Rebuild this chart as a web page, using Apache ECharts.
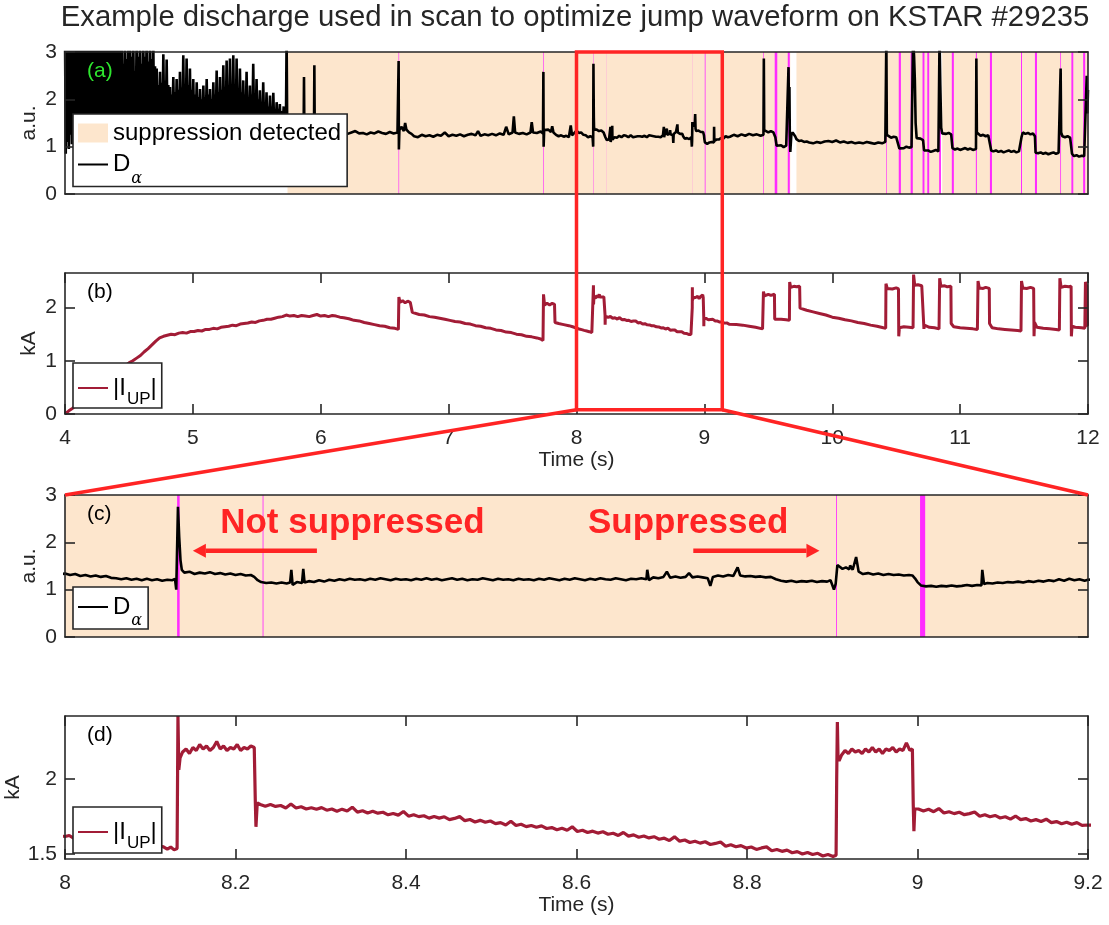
<!DOCTYPE html>
<html>
<head>
<meta charset="utf-8">
<script src="https://cdn.jsdelivr.net/npm/echarts@6/dist/echarts.min.js"></script>
<style>
  html, body { margin: 0; padding: 0; background: #ffffff; }
  #chart { width: 1109px; height: 925px; }
</style>
</head>
<body>
<div id="chart"></div>
<script>
// ---------------------------------------------------------------------------
// Data: KSTAR #29235, D-alpha emission and upper-coil current |I_UP|
// ---------------------------------------------------------------------------
const titleText = 'Example discharge used in scan to optimize jump waveform on KSTAR #29235';

const wideTimeTicks = [4, 5, 6, 7, 8, 9, 10, 11, 12];
const zoomTimeTicks = [8, 8.2, 8.4, 8.6, 8.8, 9, 9.2];
const dAlphaTicks = [0, 1, 2, 3];
const iUpWideTicks = [0, 1, 2];
const iUpZoomTicks = [1.5, 2];

const wideRange = [4, 12];
const zoomRange = [8, 9.2];
const dAlphaRange = [0, 3];
const iUpWideRange = [0, 2.65];
const iUpZoomRange = [1.465, 2.42];

// intervals flagged by the suppression detector (s)
const suppressionSpans = [[5.74, 9.672], [9.72, 10.846], [10.86, 12]];
// short intervals flagged as ELM / not suppressed (s)
const elmFlags = [
  [6.608, 6.613], [7.739, 7.744], [8.1315, 8.1345], [8.2318, 8.2328], [8.9045, 8.9055],
  [9.003, 9.009], [9.459, 9.464], [9.55, 9.57], [9.652, 9.668], [10.421, 10.426],
  [10.52, 10.537], [10.613, 10.63], [10.706, 10.721], [10.743, 10.758], [10.836, 10.85],
  [10.935, 10.951], [11.123, 11.131], [11.233, 11.249], [11.476, 11.484], [11.585, 11.601],
  [11.783, 11.789], [11.87, 11.885], [11.962, 11.978]
];

// ELMy phase before suppression: [time, burst peak, level between bursts]
const elmyBursts = [
  [4.000,3.4,0.85],[4.012,3.4,1.1],[4.024,3.4,0.95],[4.036,3.4,1.25],[4.048,3.4,1.05],[4.060,3.4,1.3],
  [4.072,3.4,1.15],[4.084,3.4,1.4],[4.096,3.4,1.2],[4.108,3.4,1.35],[4.120,3.4,1.25],[4.132,3.4,1.45],
  [4.144,3.4,1.3],[4.156,3.4,1.5],[4.168,3.4,1.35],[4.180,3.4,1.45],[4.192,3.4,1.3],[4.204,3.4,1.5],
  [4.216,3.4,1.4],[4.228,3.4,1.55],[4.240,3.4,1.35],[4.252,3.4,1.5],[4.264,3.4,1.45],[4.276,3.4,1.6],
  [4.288,3.4,1.4],[4.300,3.4,1.55],[4.312,3.4,1.45],[4.324,3.4,1.6],[4.336,3.4,1.5],[4.348,3.4,1.55],
  [4.360,3.4,1.45],[4.372,3.4,1.6],[4.384,3.4,1.5],[4.396,3.4,1.55],[4.408,3.4,1.45],[4.420,3.4,1.6],
  [4.432,3.4,1.5],[4.444,3.3,1.55],
  [4.456,2.75,1.5],[4.469,3.3,1.6],[4.482,2.85,1.45],[4.495,3.3,1.55],[4.508,3.3,1.5],[4.521,2.9,1.6],
  [4.534,3.3,1.45],[4.547,2.6,1.55],[4.56,3.3,1.5],[4.573,2.9,1.6],[4.586,3.3,1.45],[4.599,2.75,1.55],
  [4.612,3.3,1.5],[4.625,2.9,1.6],[4.638,3.3,1.45],[4.651,2.8,1.55],[4.664,3.3,1.5],[4.677,2.85,1.6],
  [4.69,3.3,1.5],[4.704,2.7,1.55],[4.717,2.65,1.45],[4.73,2.3,1.6],[4.743,2.58,1.5],[4.756,2.35,1.55],
  [4.769,2.95,1.45],[4.782,2.4,1.6],[4.795,2.84,1.5],[4.808,2.3,1.55],[4.821,2.26,1.45],[4.834,2.1,1.6],
  [4.847,2.47,1.5],[4.86,2.15,1.55],[4.873,2.43,1.45],[4.886,2.2,1.6],[4.899,2.58,1.5],[4.912,2.25,1.55],
  [4.925,2.93,1.45],[4.938,2.3,1.6],[4.951,2.86,1.5],[4.964,2.3,1.55],[4.977,2.65,1.45],[4.99,2.2,1.6],
  [5.003,2.43,1.5],[5.016,2.1,1.55],[5.03,2.36,1.45],[5.043,2.05,1.6],[5.056,2.22,1.5],[5.069,2.0,1.55],
  [5.082,2.29,1.45],[5.095,2.05,1.6],[5.108,2.43,1.5],[5.121,2.1,1.55],[5.134,2.22,1.45],[5.147,2.0,1.6],
  [5.16,2.36,1.5],[5.173,2.1,1.55],[5.186,2.61,1.45],[5.199,2.15,1.6],[5.212,2.47,1.5],[5.225,2.2,1.55],
  [5.238,2.72,1.45],[5.251,2.25,1.6],[5.264,2.82,1.5],[5.277,2.3,1.55],[5.29,2.86,1.45],[5.303,2.3,1.6],
  [5.316,2.93,1.5],[5.329,2.25,1.55],[5.342,2.86,1.45],[5.355,2.2,1.6],[5.368,2.65,1.5],[5.381,2.15,1.55],
  [5.394,2.4,1.45],[5.407,2.1,1.6],[5.42,2.58,1.5],[5.433,2.05,1.55],[5.446,2.29,1.45],[5.459,2.1,1.6],
  [5.472,2.75,1.5],[5.485,2.05,1.55],[5.498,2.43,1.45],[5.511,2.0,1.55],[5.524,2.19,1.5],[5.537,1.95,1.45],
  [5.55,2.36,1.55],[5.563,1.9,1.5],[5.576,2.15,1.45],[5.589,1.85,1.5],[5.603,2.08,1.4],[5.616,1.85,1.5],
  [5.629,2.14,1.45],[5.642,1.8,1.4],[5.655,1.94,1.5],[5.668,1.8,1.45],[5.68,1.9,1.4],[5.695,1.75,1.45],
  [5.71,1.85,1.4],[5.722,1.75,1.45]
];

// D-alpha after the ELMy phase: [time (s), a.u.]
const dAlphaTrace = [
  [5.728,1.6],[5.733,3.3],[5.738,1.32],[5.75,1.3],[5.77,1.27],[5.79,1.29],[5.81,1.26],[5.83,1.3],[5.85,1.27],
  [5.866,1.28],[5.869,2.47],[5.872,1.3],[5.89,1.27],[5.91,1.29],[5.93,1.26],[5.947,1.28],[5.95,2.72],[5.953,1.3],
  [5.97,1.27],[6.0,1.29],[6.03,1.26],[6.06,1.31],[6.09,1.27],[6.12,1.3],[6.15,1.26],[6.18,1.29],[6.21,1.27],
  [6.24,1.3],[6.27,1.33],[6.3,1.28],[6.33,1.29],[6.36,1.26],[6.39,1.3],[6.42,1.28],[6.45,1.32],[6.48,1.29],
  [6.51,1.27],[6.54,1.31],[6.57,1.28],[6.6,1.3],[6.606,1.27],[6.609,2.81],[6.611,0.94],[6.615,1.35],[6.63,1.42],
  [6.65,1.33],[6.66,1.5],[6.67,1.36],[6.69,1.3],[6.71,1.27],[6.73,1.22],[6.76,1.2],[6.79,1.25],[6.82,1.22],
  [6.85,1.24],[6.88,1.21],[6.91,1.25],[6.94,1.23],[6.97,1.3],[7.0,1.22],[7.03,1.25],[7.06,1.23],[7.09,1.26],
  [7.12,1.22],[7.15,1.25],[7.18,1.27],[7.21,1.24],[7.23,1.33],[7.25,1.23],[7.28,1.26],[7.31,1.24],[7.34,1.27],
  [7.37,1.24],[7.4,1.28],[7.43,1.25],[7.45,1.42],[7.47,1.26],[7.5,1.3],[7.51,1.64],[7.52,1.3],[7.55,1.27],
  [7.58,1.29],[7.61,1.26],[7.64,1.3],[7.65,1.52],[7.66,1.3],[7.69,1.29],[7.72,1.32],[7.738,1.28],[7.741,2.58],
  [7.743,1.0],[7.747,1.35],[7.76,1.33],[7.78,1.36],[7.8,1.31],[7.81,1.43],[7.82,1.3],[7.84,1.25],[7.86,1.22],
  [7.88,1.24],[7.9,1.21],[7.92,1.23],[7.94,1.2],[7.955,1.45],[7.965,1.24],[7.98,1.28],
  [8.0,1.34],[8.006,1.31],[8.012,1.33],[8.018,1.29],[8.024,1.31],[8.03,1.28],[8.036,1.3],[8.042,1.27],[8.048,1.29],
  [8.054,1.25],[8.06,1.24],[8.066,1.22],[8.072,1.24],[8.078,1.21],[8.084,1.23],[8.09,1.2],[8.096,1.23],[8.102,1.2],
  [8.108,1.22],[8.114,1.19],[8.12,1.21],[8.126,1.2],[8.129,1.23],[8.1305,1.0],[8.1315,1.02],[8.1325,2.75],
  [8.134,2.1],[8.1355,1.62],[8.137,1.42],[8.14,1.36],[8.146,1.38],[8.152,1.33],[8.158,1.36],[8.164,1.34],
  [8.17,1.37],[8.176,1.33],[8.182,1.35],[8.188,1.32],[8.194,1.34],[8.2,1.31],[8.206,1.33],[8.212,1.3],
  [8.218,1.31],[8.222,1.27],[8.226,1.2],[8.23,1.16],[8.236,1.14],[8.242,1.15],[8.248,1.13],[8.254,1.15],
  [8.26,1.13],[8.264,1.15],[8.2655,1.42],[8.267,1.1],[8.272,1.16],[8.278,1.14],[8.2795,1.44],[8.281,1.15],
  [8.286,1.18],[8.292,1.16],[8.298,1.2],[8.304,1.17],[8.31,1.21],[8.316,1.19],[8.322,1.22],[8.328,1.2],
  [8.334,1.23],[8.34,1.21],[8.346,1.22],[8.352,1.2],[8.358,1.23],[8.364,1.21],[8.37,1.24],[8.376,1.22],
  [8.382,1.2],[8.388,1.23],[8.394,1.21],[8.4,1.22],[8.406,1.2],[8.412,1.23],[8.418,1.21],[8.424,1.24],
  [8.43,1.21],[8.436,1.23],[8.442,1.2],[8.448,1.22],[8.454,1.24],[8.46,1.21],[8.466,1.23],[8.472,1.2],
  [8.478,1.22],[8.484,1.21],[8.49,1.24],[8.496,1.22],[8.502,1.2],[8.508,1.23],[8.514,1.21],[8.52,1.22],
  [8.526,1.2],[8.532,1.23],[8.538,1.21],[8.544,1.22],[8.55,1.2],[8.556,1.23],[8.562,1.21],[8.568,1.24],
  [8.574,1.22],[8.58,1.2],[8.586,1.23],[8.592,1.21],[8.598,1.24],[8.604,1.22],[8.61,1.2],[8.616,1.23],
  [8.622,1.21],[8.628,1.24],[8.634,1.22],[8.64,1.21],[8.646,1.24],[8.652,1.22],[8.658,1.2],[8.664,1.23],
  [8.67,1.22],[8.676,1.24],[8.682,1.22],[8.683,1.42],[8.685,1.2],[8.69,1.26],[8.696,1.24],[8.702,1.27],
  [8.706,1.38],[8.71,1.25],[8.716,1.28],[8.722,1.25],[8.728,1.27],[8.732,1.35],[8.736,1.26],[8.742,1.28],
  [8.748,1.26],[8.754,1.24],[8.757,1.08],[8.76,1.27],[8.766,1.3],[8.772,1.28],[8.778,1.31],[8.784,1.29],
  [8.789,1.47],[8.792,1.3],[8.798,1.28],[8.804,1.29],[8.81,1.27],[8.816,1.28],[8.822,1.26],[8.828,1.27],
  [8.834,1.22],[8.84,1.19],[8.846,1.17],[8.852,1.19],[8.858,1.16],[8.864,1.18],[8.87,1.17],[8.876,1.19],
  [8.882,1.16],[8.888,1.18],[8.894,1.17],[8.898,1.2],[8.902,1.0],[8.904,1.12],[8.906,1.52],[8.908,1.56],
  [8.912,1.44],[8.916,1.47],[8.92,1.43],[8.921,1.51],[8.924,1.42],[8.928,1.69],[8.931,1.38],[8.936,1.33],
  [8.942,1.35],[8.948,1.32],[8.954,1.34],[8.96,1.31],[8.966,1.33],[8.972,1.31],[8.978,1.32],[8.984,1.3],
  [8.99,1.31],[8.994,1.3],[8.997,1.24],[9.0,1.16],[9.004,1.09],[9.01,1.07],[9.016,1.08],[9.022,1.06],
  [9.028,1.08],[9.034,1.07],[9.04,1.09],[9.046,1.07],[9.052,1.08],[9.058,1.1],[9.064,1.08],[9.07,1.1],
  [9.075,1.09],[9.076,1.42],[9.078,1.12],[9.082,1.14],[9.088,1.13],[9.094,1.15],[9.1,1.14],[9.106,1.16],
  [9.112,1.15],[9.118,1.17],[9.124,1.15],[9.13,1.18],[9.136,1.16],[9.142,1.19],[9.148,1.17],[9.154,1.2],
  [9.16,1.18],[9.166,1.22],[9.172,1.19],[9.178,1.23],[9.184,1.2],[9.19,1.22],[9.196,1.19],[9.2,1.21],
  [9.23,1.25],[9.26,1.22],[9.29,1.26],[9.32,1.23],[9.35,1.27],[9.38,1.24],[9.41,1.26],[9.44,1.23],[9.455,1.27],
  [9.462,1.25],[9.465,2.86],[9.468,1.35],[9.48,1.32],[9.5,1.3],[9.52,1.33],[9.54,1.3],[9.555,1.2],[9.565,1.02],
  [9.58,1.0],[9.6,1.03],[9.62,0.99],[9.64,1.02],[9.655,1.0],[9.658,2.68],[9.662,1.6],[9.665,2.26],[9.668,1.3],
  [9.672,0.89],[9.68,1.25],[9.69,1.3],[9.7,1.26],[9.71,1.22],[9.72,1.16],[9.74,1.12],[9.76,1.13],[9.78,1.1],
  [9.8,1.11],[9.82,1.09],[9.85,1.07],[9.88,1.1],[9.91,1.08],[9.94,1.11],[9.97,1.12],[10.0,1.1],[10.03,1.13],
  [10.06,1.09],[10.09,1.11],[10.12,1.08],[10.15,1.1],[10.18,1.07],[10.21,1.09],[10.24,1.07],[10.27,1.1],
  [10.3,1.08],[10.33,1.06],[10.36,1.09],[10.39,1.07],[10.415,1.1],[10.42,1.1],[10.423,3.3],[10.427,1.25],
  [10.44,1.22],[10.46,1.19],[10.48,1.21],[10.5,1.2],[10.515,1.18],[10.525,0.96],[10.54,0.98],[10.56,0.97],
  [10.58,1.0],[10.6,0.98],[10.62,0.99],[10.628,0.98],[10.632,3.3],[10.64,2.9],[10.646,2.4],[10.652,1.5],
  [10.66,1.18],[10.67,1.15],[10.69,1.17],[10.71,1.14],[10.718,0.92],[10.73,0.9],[10.75,0.92],[10.77,0.89],
  [10.79,0.91],[10.81,0.93],[10.83,0.9],[10.836,0.92],[10.839,3.3],[10.845,2.3],[10.852,1.4],[10.86,1.28],
  [10.87,1.3],[10.89,1.27],[10.91,1.29],[10.93,1.26],[10.94,0.97],[10.96,0.94],[10.98,0.96],[11.0,0.93],
  [11.02,0.95],[11.04,0.97],[11.06,0.94],[11.08,0.96],[11.1,0.93],[11.115,0.95],[11.124,0.95],[11.127,2.86],
  [11.131,1.3],[11.14,1.26],[11.16,1.23],[11.18,1.25],[11.2,1.22],[11.22,1.24],[11.235,1.2],[11.243,0.92],
  [11.26,0.9],[11.28,0.92],[11.3,0.89],[11.32,0.91],[11.34,0.88],[11.36,0.9],[11.38,0.92],[11.4,0.89],
  [11.42,0.91],[11.44,0.88],[11.46,0.9],[11.475,0.92],[11.48,1.2],[11.49,1.3],[11.51,1.27],[11.53,1.29],
  [11.55,1.26],[11.57,1.28],[11.585,1.22],[11.59,0.87],[11.61,0.86],[11.63,0.88],[11.65,0.85],[11.67,0.87],
  [11.69,0.84],[11.71,0.86],[11.73,0.88],[11.75,0.85],[11.77,0.87],[11.783,0.88],[11.786,2.65],[11.79,1.3],
  [11.8,1.22],[11.82,1.2],[11.84,1.22],[11.86,1.19],[11.875,0.85],[11.89,0.8],[11.91,0.82],[11.93,0.79],
  [11.95,0.81],[11.97,0.8],[11.985,0.82],[11.99,2.5],[11.995,1.7],[12.0,2.2]
];

// |I_UP| upper-coil current: [time (s), kA]
const iUpTrace = [
  [4.0,0.0],[4.03,0.06],[4.06,0.11],[4.12,0.23],[4.2,0.38],[4.28,0.54],[4.36,0.7],[4.44,0.85],[4.5,0.96],
  [4.53,1.0],[4.56,1.05],[4.59,1.1],[4.62,1.17],[4.65,1.23],[4.68,1.3],[4.71,1.37],[4.74,1.43],[4.77,1.46],
  [4.8,1.48],[4.83,1.5],[4.86,1.49],[4.89,1.52],[4.92,1.53],[4.95,1.52],[4.98,1.55],[5.01,1.55],[5.04,1.57],
  [5.07,1.56],[5.1,1.59],[5.13,1.59],[5.16,1.61],[5.19,1.6],[5.22,1.63],[5.25,1.64],[5.28,1.65],[5.31,1.67],
  [5.34,1.66],[5.37,1.69],[5.4,1.7],[5.43,1.71],[5.46,1.73],[5.49,1.72],[5.52,1.75],[5.55,1.76],[5.58,1.78],
  [5.61,1.78],[5.64,1.8],[5.67,1.82],[5.7,1.83],[5.73,1.86],[5.76,1.84],[5.79,1.85],[5.82,1.83],[5.85,1.85],
  [5.88,1.84],[5.91,1.83],[5.94,1.85],[5.97,1.87],[6.0,1.84],[6.03,1.85],[6.06,1.83],[6.09,1.85],[6.12,1.84],
  [6.15,1.82],[6.18,1.81],[6.22,1.79],[6.26,1.76],[6.3,1.75],[6.34,1.72],[6.38,1.7],[6.42,1.68],[6.46,1.66],
  [6.5,1.65],[6.54,1.62],[6.58,1.61],[6.607,1.59],[6.611,2.2],[6.62,2.1],[6.64,2.13],[6.66,2.09],[6.68,2.12],
  [6.7,2.1],[6.712,2.11],[6.716,1.91],[6.73,1.89],[6.77,1.87],[6.81,1.86],[6.85,1.83],[6.89,1.82],[6.93,1.8],
  [6.97,1.78],[7.01,1.76],[7.05,1.74],[7.09,1.73],[7.13,1.7],[7.17,1.69],[7.21,1.66],[7.25,1.65],[7.29,1.62],
  [7.33,1.61],[7.37,1.58],[7.41,1.57],[7.45,1.54],[7.49,1.53],[7.53,1.5],[7.57,1.49],[7.61,1.46],[7.65,1.45],
  [7.69,1.43],[7.72,1.41],[7.738,1.38],[7.742,2.25],[7.75,2.05],[7.77,2.08],[7.79,2.05],[7.81,2.08],[7.828,2.06],
  [7.832,1.72],[7.86,1.7],[7.9,1.68],[7.94,1.66],[7.97,1.64],
  [8.0,1.615],[8.005,1.622],[8.01,1.604],[8.015,1.612],[8.02,1.598],[8.025,1.61],[8.03,1.59],[8.035,1.603],
  [8.04,1.585],[8.045,1.592],[8.05,1.58],[8.055,1.588],[8.06,1.572],[8.065,1.579],[8.07,1.566],[8.075,1.574],
  [8.08,1.56],[8.085,1.566],[8.09,1.552],[8.095,1.561],[8.1,1.547],[8.105,1.553],[8.11,1.54],[8.115,1.548],
  [8.12,1.531],[8.124,1.545],[8.128,1.526],[8.1315,1.535],[8.1325,2.42],[8.1335,2.06],[8.135,2.14],[8.138,2.18],
  [8.142,2.2],[8.146,2.17],[8.15,2.21],[8.154,2.19],[8.158,2.23],[8.162,2.2],[8.166,2.22],[8.17,2.19],
  [8.174,2.21],[8.178,2.25],[8.182,2.2],[8.186,2.22],[8.19,2.19],[8.194,2.21],[8.198,2.2],[8.202,2.23],
  [8.206,2.19],[8.21,2.21],[8.214,2.2],[8.218,2.22],[8.222,2.21],[8.2232,1.86],[8.224,1.68],[8.2255,1.84],
  [8.229,1.829],[8.235,1.817],[8.241,1.829],[8.247,1.816],[8.253,1.822],[8.259,1.806],[8.265,1.832],[8.271,1.806],
  [8.277,1.814],[8.283,1.799],[8.289,1.807],[8.295,1.797],[8.301,1.808],[8.307,1.791],[8.313,1.799],[8.319,1.784],
  [8.325,1.798],[8.331,1.785],[8.337,1.811],[8.343,1.778],[8.349,1.787],[8.355,1.772],[8.361,1.784],[8.367,1.771],
  [8.373,1.777],[8.379,1.76],[8.385,1.769],[8.391,1.758],[8.397,1.782],[8.403,1.751],[8.409,1.761],[8.415,1.748],
  [8.421,1.754],[8.427,1.738],[8.433,1.749],[8.439,1.738],[8.445,1.747],[8.451,1.728],[8.457,1.736],[8.463,1.748],
  [8.469,1.721],[8.475,1.729],[8.481,1.712],[8.487,1.723],[8.493,1.71],[8.499,1.719],[8.505,1.701],[8.511,1.708],
  [8.517,1.692],[8.523,1.717],[8.529,1.689],[8.535,1.697],[8.541,1.681],[8.547,1.689],[8.553,1.677],[8.559,1.686],
  [8.565,1.669],[8.571,1.675],[8.577,1.66],[8.583,1.67],[8.589,1.657],[8.595,1.68],[8.601,1.649],[8.607,1.657],
  [8.613,1.642],[8.619,1.651],[8.625,1.638],[8.631,1.647],[8.637,1.63],[8.643,1.637],[8.649,1.622],[8.655,1.642],
  [8.661,1.618],[8.667,1.626],[8.673,1.61],[8.679,1.619],[8.685,1.606],[8.691,1.614],[8.697,1.597],[8.703,1.604],
  [8.709,1.588],[8.715,1.613],[8.721,1.584],[8.727,1.592],[8.733,1.575],[8.739,1.584],[8.745,1.571],[8.751,1.58],
  [8.757,1.562],[8.763,1.569],[8.769,1.579],[8.775,1.55],[8.781,1.56],[8.787,1.547],[8.793,1.554],[8.799,1.538],
  [8.805,1.545],[8.811,1.529],[8.817,1.539],[8.823,1.546],[8.829,1.52],[8.835,1.528],[8.841,1.516],[8.847,1.524],
  [8.853,1.507],[8.859,1.514],[8.865,1.498],[8.871,1.509],[8.877,1.495],[8.883,1.503],[8.889,1.485],[8.895,1.495],
  [8.901,1.482],[8.9045,1.49],[8.9052,2.0],[8.906,2.38],[8.9068,2.14],[8.908,2.12],[8.911,2.16],[8.915,2.19],
  [8.919,2.17],[8.923,2.2],[8.927,2.18],[8.931,2.19],[8.935,2.17],[8.939,2.2],[8.943,2.18],[8.947,2.21],
  [8.951,2.18],[8.955,2.2],[8.959,2.17],[8.963,2.2],[8.967,2.19],[8.971,2.21],[8.975,2.18],[8.979,2.2],
  [8.983,2.19],[8.987,2.24],[8.991,2.19],[8.994,2.2],[8.995,1.83],[8.9958,1.65],[8.9968,1.8],
  [9.001,1.799],[9.007,1.786],[9.013,1.797],[9.019,1.781],[9.025,1.802],[9.031,1.772],[9.037,1.781],[9.043,1.768],
  [9.049,1.777],[9.055,1.761],[9.061,1.768],[9.067,1.779],[9.073,1.75],[9.079,1.76],[9.085,1.747],[9.091,1.756],
  [9.097,1.739],[9.103,1.747],[9.109,1.731],[9.115,1.752],[9.121,1.728],[9.127,1.735],[9.133,1.719],[9.139,1.728],
  [9.145,1.716],[9.151,1.731],[9.157,1.708],[9.163,1.715],[9.169,1.7],[9.175,1.711],[9.181,1.697],[9.187,1.708],
  [9.193,1.689],[9.2,1.692],
  [9.25,1.68],[9.3,1.67],[9.35,1.65],[9.4,1.63],[9.455,1.6],[9.46,1.59],[9.462,2.3],[9.47,2.22],[9.5,2.25],
  [9.52,2.23],[9.548,2.25],[9.55,1.78],[9.56,1.76],[9.6,1.78],[9.64,1.77],[9.665,1.76],[9.667,2.48],[9.675,2.38],
  [9.7,2.4],[9.72,2.39],[9.745,2.4],[9.748,1.99],[9.76,1.97],[9.8,1.95],[9.85,1.92],[9.9,1.89],[9.95,1.86],
  [10.0,1.82],[10.05,1.8],[10.1,1.77],[10.15,1.75],[10.2,1.72],[10.25,1.7],[10.3,1.67],[10.35,1.65],[10.4,1.62],
  [10.418,1.61],[10.42,2.45],[10.43,2.36],[10.47,2.35],[10.5,2.37],[10.518,2.35],[10.52,1.46],[10.525,1.62],
  [10.56,1.64],[10.6,1.63],[10.632,1.62],[10.636,2.62],[10.645,2.42],[10.67,2.43],[10.7,2.41],[10.714,2.42],
  [10.717,1.6],[10.72,1.67],[10.76,1.63],[10.8,1.62],[10.835,1.6],[10.84,2.55],[10.85,2.4],[10.88,2.41],
  [10.9,2.39],[10.928,2.4],[10.93,1.7],[10.95,1.64],[11.0,1.62],[11.05,1.61],[11.1,1.6],[11.135,1.59],
  [11.14,2.5],[11.15,2.37],[11.18,2.36],[11.2,2.38],[11.228,2.36],[11.23,1.7],[11.25,1.62],[11.3,1.6],
  [11.35,1.59],[11.4,1.58],[11.45,1.57],[11.476,1.56],[11.48,2.5],[11.49,2.37],[11.52,2.36],[11.55,2.38],
  [11.575,2.36],[11.578,1.46],[11.582,1.72],[11.6,1.63],[11.65,1.61],[11.7,1.6],[11.75,1.59],[11.776,1.58],
  [11.78,2.55],[11.79,2.38],[11.82,2.4],[11.85,2.39],[11.868,2.4],[11.87,1.46],[11.875,1.65],[11.9,1.63],
  [11.95,1.62],[11.975,1.61],[11.98,2.48],[11.99,2.4],[11.996,1.66],[12.0,1.65]
];

// zoom window outlined on the upper panels, and the two call-outs in panel (c)
const zoomWindow = [8, 9.14];
const notSuppressedLabel = { text: 'Not suppressed', at: [8.182, 2.41] };
const suppressedLabel = { text: 'Suppressed', at: [8.6135, 2.41] };
const notSuppressedArrow = [[8.2955, 1.82], [8.150, 1.82]];
const suppressedArrow = [[8.737, 1.82], [8.885, 1.82]];

// ---------------------------------------------------------------------------
// Styling
// ---------------------------------------------------------------------------
const FONT = "'Liberation Sans', Arial, Helvetica, sans-serif";
const INK = '#262626';
const PEACH = '#fde6cd';
const MAGENTA = '#ff2cff';
const RED = '#ff2424';
const CRIMSON = '#a21c36';

function burstsToPoints(bursts) {
  const pts = [];
  for (let i = 0; i < bursts.length; i++) {
    const [t, peak, between] = bursts[i];
    const next = i + 1 < bursts.length ? bursts[i + 1][0] : t + 0.012;
    pts.push([t, peak], [(t + next) / 2, between]);
  }
  return pts;
}
const dAlphaPoints = burstsToPoints(elmyBursts).concat(dAlphaTrace);

function clipSpans(spans, lo, hi) {
  return spans
    .map(([a, b]) => [Math.max(a, lo), Math.min(b, hi)])
    .filter(([a, b]) => b > a)
    .map(([a, b]) => [{ xAxis: a }, { xAxis: b }]);
}

const grids = [
  { left: 65, right: 21, top: 52, height: 142 },
  { left: 65, right: 21, top: 273, height: 141 },
  { left: 65, right: 21, top: 495, height: 142 },
  { left: 65, right: 21, top: 716, height: 143 }
].map(g => Object.assign({ containLabel: false, outerBoundsMode: 'none' }, g));

const axisLineStyle = { color: INK, width: 1.6 };
const labelStyle = { color: INK, fontSize: 21, fontFamily: FONT };

function xAxes(gi, range, ticks, labelled) {
  const base = {
    type: 'value', gridIndex: gi, min: range[0], max: range[1], z: 10,
    splitLine: { show: false },
    axisLine: { show: true, onZero: false, lineStyle: axisLineStyle }
  };
  const tick = { show: labelled, inside: true, length: 10, customValues: ticks, lineStyle: axisLineStyle };
  return [
    Object.assign({}, base, {
      position: 'bottom', axisTick: tick,
      axisLabel: Object.assign({ show: labelled, customValues: ticks, margin: 14 }, labelStyle),
      name: labelled ? 'Time (s)' : '', nameLocation: 'middle', nameGap: 36,
      nameTextStyle: labelStyle
    }),
    Object.assign({}, base, { position: 'top', axisTick: tick, axisLabel: { show: false } })
  ];
}

function yAxes(gi, range, ticks, name, nameGap) {
  const base = {
    type: 'value', gridIndex: gi, min: range[0], max: range[1], z: 10,
    splitLine: { show: false },
    axisLine: { show: true, onZero: false, lineStyle: axisLineStyle }
  };
  const tick = { show: true, inside: true, length: 10, customValues: ticks, lineStyle: axisLineStyle };
  return [
    Object.assign({}, base, {
      position: 'left', axisTick: tick,
      axisLabel: Object.assign({ customValues: ticks, margin: 8 }, labelStyle),
      name: name, nameLocation: 'middle', nameGap: nameGap, nameMoveOverlap: false,
      nameTextStyle: labelStyle
    }),
    Object.assign({}, base, { position: 'right', axisTick: tick, axisLabel: { show: false } })
  ];
}

const legendRich = {
  main: { fontSize: 24, lineHeight: 28, fontFamily: FONT, color: '#000' },
  greek: { fontSize: 16, lineHeight: 5, fontFamily: "'DejaVu Serif', serif", fontStyle: 'italic',
           color: '#000', padding: [20, 0, 0, 1], verticalAlign: 'top' },
  sub: { fontSize: 17, lineHeight: 12, fontFamily: FONT, color: '#000', padding: [17, 0, 0, 1], verticalAlign: 'top' }
};
function legendText(name) {
  if (name === 'Dα') return '{main|D}{greek|α}';
  if (name === 'I_UP') return '{main||I}{sub|UP}{main||}';
  return '{main|' + name + '}';
}
// line entries show only the stroke, no marker
function lineEntry(name) {
  return { name: name, itemStyle: { opacity: 0 } };
}
function legendBox(top, data, padding, gap) {
  return {
    left: 73, top: top, orient: 'vertical', itemWidth: 30, itemHeight: 19, itemGap: gap || 0,
    padding: padding, backgroundColor: '#ffffff', borderColor: INK, borderWidth: 1.6, borderRadius: 0,
    selectedMode: false, z: 20, data: data, formatter: legendText,
    textStyle: { fontSize: 24, fontFamily: FONT, color: '#000', rich: legendRich }
  };
}

function bandSeries(name, gi, spans, color) {
  return {
    name: name, type: 'line', xAxisIndex: 2 * gi, yAxisIndex: 2 * gi, data: [], symbol: 'none',
    color: color, silent: true, z: 1,
    markArea: { silent: true, itemStyle: { color: color, borderWidth: 0 }, data: spans }
  };
}
function traceSeries(name, gi, data, color, width) {
  return {
    name: name, type: 'line', xAxisIndex: 2 * gi, yAxisIndex: 2 * gi, data: data, symbol: 'none',
    color: color, lineStyle: { color: color, width: width }, silent: true, z: 3, clip: true
  };
}

const chart = echarts.init(document.getElementById('chart'), null, { renderer: 'canvas' });

chart.setOption({
  animation: false,
  backgroundColor: '#ffffff',
  title: {
    text: titleText, left: 575, textAlign: 'center', top: 3, padding: 0,
    textStyle: { fontSize: 29.3, fontWeight: 'normal', color: INK, fontFamily: FONT }
  },
  grid: grids,
  xAxis: [].concat(
    xAxes(0, wideRange, wideTimeTicks, false),
    xAxes(1, wideRange, wideTimeTicks, true),
    xAxes(2, zoomRange, zoomTimeTicks, false),
    xAxes(3, zoomRange, zoomTimeTicks, true)
  ),
  yAxis: [].concat(
    yAxes(0, dAlphaRange, dAlphaTicks, 'a.u.', 25),
    yAxes(1, iUpWideRange, iUpWideTicks, 'kA', 25),
    yAxes(2, dAlphaRange, dAlphaTicks, 'a.u.', 25),
    yAxes(3, iUpZoomRange, iUpZoomTicks, 'kA', 41)
  ),
  legend: [
    legendBox(114, [{ name: 'suppression detected', icon: 'rect', itemStyle: { color: PEACH } }, lineEntry('Dα')], [7, 6, 0, 4], 5.5),
    legendBox(363, [lineEntry('I_UP')], [11, 5, 0, 4]),
    legendBox(587, [lineEntry('Dα')], [6, 6, 0, 4]),
    legendBox(807, [lineEntry('I_UP')], [11, 5, 1, 4])
  ],
  series: [
    bandSeries('suppression detected', 0, clipSpans(suppressionSpans, wideRange[0], wideRange[1]), PEACH),
    bandSeries('ELM flag', 0, clipSpans(elmFlags, wideRange[0], wideRange[1]), MAGENTA),
    traceSeries('Dα', 0, dAlphaPoints, '#000000', 2.6),
    traceSeries('I_UP', 1, iUpTrace, CRIMSON, 3),
    bandSeries('suppression detected', 2, clipSpans(suppressionSpans, zoomRange[0], zoomRange[1]), PEACH),
    bandSeries('ELM flag', 2, clipSpans(elmFlags, zoomRange[0], zoomRange[1]), MAGENTA),
    traceSeries('Dα', 2, dAlphaPoints, '#000000', 2.6),
    traceSeries('I_UP', 3, iUpTrace, CRIMSON, 3.2)
  ]
});

// ---------------------------------------------------------------------------
// Annotations placed through the axes' own scales
// ---------------------------------------------------------------------------
function px(gi, x, y) {
  return chart.convertToPixel({ xAxisIndex: 2 * gi, yAxisIndex: 2 * gi }, [x, y]);
}
function arrow(from, to) {
  const a = px(2, from[0], from[1]);
  const b = px(2, to[0], to[1]);
  const dir = Math.sign(b[0] - a[0]);
  const baseX = b[0] - dir * 13;
  return [
    { type: 'line', z: 100, shape: { x1: a[0], y1: a[1], x2: baseX, y2: b[1] },
      style: { stroke: RED, lineWidth: 4.5 } },
    { type: 'polygon', z: 100, shape: { points: [[b[0], b[1]], [baseX, b[1] - 7], [baseX, b[1] + 7]] },
      style: { fill: RED } }
  ];
}
function callout(label) {
  const p = px(2, label.at[0], label.at[1]);
  return { type: 'text', z: 100, x: p[0], y: p[1],
    style: { text: label.text, fill: RED, font: 'bold 35px ' + FONT,
             align: 'left', verticalAlign: 'middle', textAlign: 'left', textVerticalAlign: 'middle' } };
}
function panelTag(text, gi, color) {
  const g = grids[gi];
  return { type: 'text', z: 30, x: g.left + 22, y: g.top + 19,
    style: { text: text, fill: color, font: '21px ' + FONT,
             align: 'left', verticalAlign: 'middle', textAlign: 'left', textVerticalAlign: 'middle' } };
}

const boxTL = px(0, zoomWindow[0], dAlphaRange[1]);
const boxBR = px(1, zoomWindow[1], 0.08);
const zoomTL = px(2, zoomRange[0], dAlphaRange[1]);
const zoomTR = px(2, zoomRange[1], dAlphaRange[1]);

chart.setOption({
  graphic: [
    { type: 'rect', z: 100,
      shape: { x: boxTL[0], y: boxTL[1], width: boxBR[0] - boxTL[0], height: boxBR[1] - boxTL[1] },
      style: { fill: 'none', stroke: RED, lineWidth: 3.5 } },
    { type: 'line', z: 100, shape: { x1: boxTL[0], y1: boxBR[1], x2: zoomTL[0], y2: zoomTL[1] },
      style: { stroke: RED, lineWidth: 3.5 } },
    { type: 'line', z: 100, shape: { x1: boxBR[0], y1: boxBR[1], x2: zoomTR[0], y2: zoomTR[1] },
      style: { stroke: RED, lineWidth: 3.5 } },
    callout(notSuppressedLabel),
    callout(suppressedLabel),
    panelTag('(a)', 0, '#2ee62e'),
    panelTag('(b)', 1, '#000000'),
    panelTag('(c)', 2, '#000000'),
    panelTag('(d)', 3, '#000000')
  ].concat(arrow(notSuppressedArrow[0], notSuppressedArrow[1]), arrow(suppressedArrow[0], suppressedArrow[1]))
});
</script>
</body>
</html>
